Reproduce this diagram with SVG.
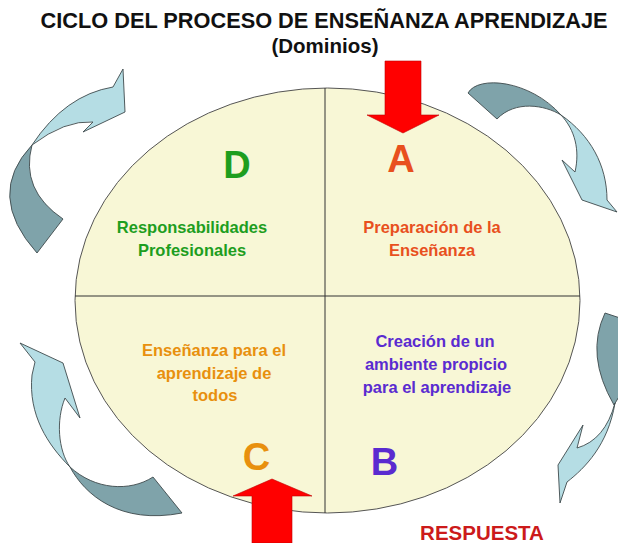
<svg xmlns="http://www.w3.org/2000/svg" width="618" height="543" viewBox="0 0 618 543">
<style>
.t{font-family:"Liberation Sans",Arial,sans-serif;font-weight:bold;text-anchor:middle}
.lt{fill:#b5dde4;stroke:#3e4a4c;stroke-width:0.9;stroke-linejoin:round}
.dk{fill:#7fa3aa;stroke:#3e4a4c;stroke-width:0.9;stroke-linejoin:round}
.red{fill:#ff0000;stroke:#c00000;stroke-width:0.6}
.big{font-size:38px}
.lbl{font-size:16.5px}
</style>
<rect width="618" height="543" fill="#ffffff"/>
<g id="title">
<text class="t" x="324" y="28" font-size="21.5" fill="#111" textLength="567" lengthAdjust="spacingAndGlyphs">CICLO DEL PROCESO DE ENSEÑANZA APRENDIZAJE</text>
<text class="t" x="325" y="53" font-size="20.5" fill="#111">(Dominios)</text>
</g>
<g id="circle">
<ellipse cx="327.5" cy="300.5" rx="252.5" ry="212.5" fill="#f8f7d6" stroke="#555" stroke-width="1"/>
<line x1="325" y1="88" x2="325" y2="513" stroke="#333" stroke-width="1"/>
<line x1="75" y1="296" x2="580" y2="296" stroke="#333" stroke-width="1"/>
</g>
<g id="connectors">
<path class="dk" d="M32,145 Q-15,195 37,253 L63,219 Q20,190 32,145 Z"/>
<path class="lt" d="M32,145 Q65,95 113,87 L123,69 L125,112 L83,132 L93,122 Q65,120 32,145 Z"/>
<path class="dk" d="M468,93 C478,75 530,80 561,115 C545,105 515,100 497,119 Z"/>
<path class="lt" d="M561,115 C590,135 607,165 607,200 L617,212 L582,200 L562,160 L575,172 C580,150 575,130 561,115 Z"/>
<path class="dk" d="M605,313 L620,318 L620,395 L614,405 Q585,355 605,313 Z"/>
<path class="lt" d="M615,403 Q605,440 577,448 L583,425 L558,465 L560,503 L567,482 C585,468 608,445 615,403 Z"/>
<path class="lt" d="M70,467 C48,445 28,415 32,375 L35,362 L20,343 L63,363 L80,418 L65,398 C56,420 58,450 70,467 Z"/>
<path class="dk" d="M70,467 C85,495 120,525 182,513 L153,477 C130,492 95,490 70,467 Z"/>
<polygon class="red" points="385,61 421,61 421,115 439,115 403,133 367,115 385,115"/>
<polygon class="red" points="252,543 252,496 233,496 272,479 312,496 292,496 292,543"/>
</g>
<g id="domain-D">
<text class="t big" x="237" y="178" fill="#1e9e1e">D</text>
<text class="t lbl" x="192" y="233" fill="#1e9e1e">Responsabilidades</text>
<text class="t lbl" x="192" y="256" fill="#1e9e1e">Profesionales</text>
</g>
<g id="domain-A">
<text class="t big" x="401" y="172" fill="#e8501e">A</text>
<text class="t lbl" x="432" y="233" fill="#e8501e">Preparación de la</text>
<text class="t lbl" x="432" y="256" fill="#e8501e">Enseñanza</text>
</g>
<g id="domain-C">
<text class="t big" x="256.5" y="470" fill="#e8900e">C</text>
<text class="t lbl" x="214" y="356" fill="#e8900e">Enseñanza para el</text>
<text class="t lbl" x="214" y="379" fill="#e8900e">aprendizaje de</text>
<text class="t lbl" x="215" y="401" fill="#e8900e">todos</text>
</g>
<g id="domain-B">
<text class="t big" x="384.5" y="475" fill="#5a2bd0">B</text>
<text class="t lbl" x="435" y="347" fill="#5a2bd0">Creación de un</text>
<text class="t lbl" x="436" y="370" fill="#5a2bd0">ambiente propicio</text>
<text class="t lbl" x="437" y="393" fill="#5a2bd0">para el aprendizaje</text>
</g>
<g id="respuesta">
<text class="t" x="482" y="540" font-size="20.5" fill="#cc1a1a">RESPUESTA</text>
</g>
</svg>
